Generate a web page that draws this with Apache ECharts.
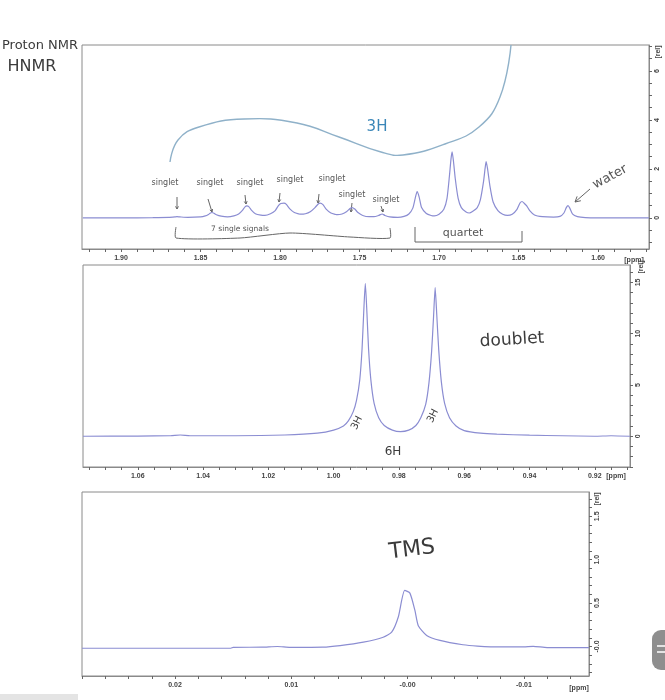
<!DOCTYPE html>
<html>
<head>
<meta charset="utf-8">
<script src="https://cdn.jsdelivr.net/npm/echarts@6/dist/echarts.min.js"></script>
<style>
  html, body { margin: 0; padding: 0; background: #ffffff; }
  #chart { width: 665px; height: 700px; }
</style>
</head>
<body>
<div id="chart"></div>
<script>
// ---- data: [ppm, rel. intensity] ----

// 1.57 - 1.92 ppm : seven small singlets, quartet, water
const spec1 = [
  [1.924, 0.0], [1.900, 0.0], [1.880, 0.01], [1.870, 0.02], [1.866, 0.04], [1.8648, 0.05], [1.863, 0.04], [1.858, 0.02],
  [1.850, 0.04], [1.847, 0.08], [1.845, 0.14], [1.844, 0.19], [1.8428, 0.22], [1.8415, 0.19], [1.840, 0.13], [1.837, 0.07], [1.833, 0.04],
  [1.829, 0.08], [1.826, 0.16], [1.8235, 0.32], [1.822, 0.45], [1.8208, 0.49], [1.8195, 0.45], [1.818, 0.32], [1.8155, 0.17], [1.812, 0.11], [1.8095, 0.1],
  [1.806, 0.17], [1.803, 0.3], [1.801, 0.5], [1.7995, 0.59], [1.7975, 0.6], [1.796, 0.55], [1.794, 0.38], [1.791, 0.22], [1.788, 0.16], [1.787, 0.15],
  [1.784, 0.17], [1.781, 0.25], [1.778, 0.42], [1.776, 0.57], [1.7748, 0.6], [1.773, 0.54], [1.771, 0.36], [1.768, 0.2], [1.765, 0.14], [1.764, 0.13],
  [1.761, 0.16], [1.758, 0.26], [1.756, 0.38], [1.7547, 0.42], [1.753, 0.36], [1.751, 0.22], [1.748, 0.1], [1.744, 0.05],
  [1.741, 0.05], [1.738, 0.1], [1.7358, 0.16], [1.734, 0.1], [1.731, 0.04], [1.726, 0.02],
  [1.722, 0.06], [1.719, 0.16], [1.7165, 0.4], [1.715, 0.8], [1.7138, 1.07], [1.7125, 0.85], [1.711, 0.42], [1.708, 0.18], [1.705, 0.1], [1.703, 0.08],
  [1.700, 0.15], [1.697, 0.35], [1.695, 0.8], [1.6935, 1.7], [1.6925, 2.4], [1.6918, 2.7], [1.691, 2.35], [1.6898, 1.6], [1.688, 0.8], [1.686, 0.42], [1.683, 0.24], [1.681, 0.2],
  [1.679, 0.26], [1.676, 0.42], [1.674, 0.75], [1.672, 1.5], [1.671, 2.05], [1.6704, 2.3], [1.6695, 2.0], [1.668, 1.3], [1.666, 0.65], [1.663, 0.3], [1.660, 0.15], [1.657, 0.1],
  [1.654, 0.15], [1.651, 0.35], [1.649, 0.62], [1.6478, 0.67], [1.6465, 0.6], [1.645, 0.5], [1.643, 0.3], [1.640, 0.12], [1.635, 0.05], [1.628, 0.03],
  [1.624, 0.06], [1.6215, 0.2], [1.620, 0.42], [1.6189, 0.5], [1.6178, 0.4], [1.616, 0.15], [1.613, 0.05], [1.608, 0.01], [1.600, 0.0], [1.568, 0.0]
]

// 0.91 - 1.08 ppm : doublet
const spec2 = [
  [1.0768, 0.0], [1.060, 0.02], [1.050, 0.05], [1.047, 0.12], [1.044, 0.05], [1.030, 0.05], [1.015, 0.12], [1.005, 0.3],
  [1.000, 0.6], [0.997, 1.0], [0.9955, 1.5], [0.994, 2.4], [0.993, 3.5], [0.992, 5.5], [0.9913, 8.5], [0.9908, 12.0],
  [0.9903, 14.9], [0.9898, 12.0], [0.9893, 8.5], [0.9886, 5.5], [0.9876, 3.2], [0.9862, 1.8], [0.9845, 1.05], [0.982, 0.6],
  [0.9795, 0.45], [0.977, 0.6], [0.9748, 1.05], [0.9733, 1.8], [0.9718, 3.1], [0.9708, 5.2], [0.970, 8.2], [0.9694, 11.6],
  [0.9689, 14.5], [0.9684, 11.8], [0.9678, 8.4], [0.967, 5.3], [0.966, 3.2], [0.9645, 1.8], [0.9625, 1.0], [0.960, 0.55],
  [0.955, 0.3], [0.950, 0.2], [0.940, 0.1], [0.930, 0.05], [0.920, 0.0], [0.915, 0.05], [0.9092, 0.0]
]

// -0.016 - 0.028 ppm : TMS
const spec3 = [
  [0.0280, -0.02], [0.0200, -0.02], [0.0152, -0.02], [0.0150, -0.01], [0.0125, -0.008], [0.0112, 0.0], [0.0101, -0.01],
  [0.0073, -0.008], [0.0058, 0.01], [0.0038, 0.05], [0.0021, 0.107], [0.00137, 0.165], [0.0008, 0.34], [0.00025, 0.646],
  [-0.0002, 0.615], [-0.00063, 0.415], [-0.00092, 0.24], [-0.00164, 0.127], [-0.00278, 0.07], [-0.00476, 0.02],
  [-0.0060, 0.005], [-0.0080, -0.005], [-0.0100, -0.004], [-0.0108, 0.002], [-0.0120, -0.012], [-0.0156, -0.012]
]

// ---- axis labels ----
const ppm1Labels = [1.90, 1.85, 1.80, 1.75, 1.70, 1.65, 1.60]
const rel1Labels = [0, 2, 4, 6]
const ppm2Labels = [1.06, 1.04, 1.02, 1.00, 0.98, 0.96, 0.94, 0.92]
const rel2Labels = [0, 5, 10, 15]
const ppm3Labels = [0.02, 0.01, 0, -0.01]
const ppm3Text = ['0.02', '0.01', '-0.00', '-0.01']
const rel3Labels = [0, 0.5, 1.0, 1.5]
const rel3Text = ['-0.0', '0.5', '1.0', '1.5']

// tick positions between labels
const steps = (a, b, d) => {
  const out = []
  for (let v = a; v <= b + d / 2; v += d) out.push(+v.toFixed(4))
  return out
}

const frameColor = '#8a8a8a'
const lineColor = '#8b8dd2'
const tickFont = { fontSize: 7, fontWeight: 'bold', color: '#444', fontFamily: 'Liberation Sans' }

const pick = (vals, texts) => (v) => {
  const i = vals.findIndex(x => Math.abs(x - v) < 1e-7)
  return i < 0 ? '' : (texts ? texts[i] : vals[i].toFixed(2))
}

const makeX = (gi, min, max, labels, ticks, texts) => ({
  type: 'value',
  gridIndex: gi,
  inverse: true,
  min: min,
  max: max,
  position: 'bottom',
  splitLine: { show: false },
  axisLine: { show: true, onZero: false, lineStyle: { color: frameColor } },
  axisTick: { show: true, length: 3, customValues: ticks, lineStyle: { color: '#666' } },
  axisLabel: { customValues: labels, margin: 6, formatter: pick(labels, texts), ...tickFont }
})

const makeY = (gi, min, max, labels, ticks, texts) => ({
  type: 'value',
  gridIndex: gi,
  position: 'right',
  min: min,
  max: max,
  splitLine: { show: false },
  axisLine: { show: true, onZero: false, lineStyle: { color: frameColor } },
  axisTick: { show: true, length: 3, customValues: ticks, lineStyle: { color: '#666' } },
  axisLabel: {
    customValues: labels,
    rotate: 90,
    margin: 5,
    formatter: (v) => {
      const i = labels.findIndex(x => Math.abs(x - v) < 1e-7)
      if (i < 0) return ''
      return texts ? texts[i] : String(labels[i])
    },
    ...tickFont
  }
})

// ---- hand written notes ----
const ink = '#3b3b3b'
const pen = 'DejaVu Sans'
const note = (text, x, y, size, opts = {}) => ({
  type: 'text',
  x: x,
  y: y,
  rotation: opts.rot || 0,
  style: {
    text: text,
    fontSize: size,
    fontFamily: pen,
    fill: opts.color || ink,
    align: 'center',
    verticalAlign: 'middle',
    fontWeight: opts.weight || 'normal'
  }
})
const stroke = (points, opts = {}) => ({
  type: 'polyline',
  shape: { points: points, smooth: opts.smooth || 0 },
  style: { stroke: opts.color || '#555', lineWidth: opts.width || 1, fill: null }
})
// arrow from (x1,y1) to (x2,y2)
const arrow = (x1, y1, x2, y2, opts = {}) => {
  const a = Math.atan2(y2 - y1, x2 - x1)
  const h = opts.head || 4
  return [
    stroke([[x1, y1], [x2, y2]], opts),
    stroke([
      [x2 - h * Math.cos(a - 0.5), y2 - h * Math.sin(a - 0.5)],
      [x2, y2],
      [x2 - h * Math.cos(a + 0.5), y2 - h * Math.sin(a + 0.5)]
    ], opts)
  ]
}
const axisText = (text, x, y, rot) => ({
  type: 'text', x: x, y: y, rotation: rot || 0,
  style: { text: text, fontSize: 7, fontWeight: 'bold', fontFamily: 'Liberation Sans', fill: '#444', align: 'center', verticalAlign: 'middle' }
})

const singlets = [
  // text x, text y, arrow from, arrow to
  [165, 183, [177, 197], [177, 209]],
  [210, 183, [208, 199], [212, 212]],
  [250, 183, [245, 195], [246, 204]],
  [290, 180, [280, 193], [279, 202]],
  [332, 179, [319, 194], [318, 203]],
  [352, 195, [352, 203], [351, 212]],
  [386, 200, [381, 206], [383, 212]]
]

const graphic = [
  note('Proton NMR', 40, 46, 13),
  note('HNMR', 32, 67, 16),
  // big blue loop with 3H
  stroke([[170, 162], [178, 140], [199, 127], [244, 119], [297, 123], [339, 137], [381, 152], [403, 155], [445, 144], [479, 127], [500, 97], [511, 45]],
    { color: '#8fb1c9', width: 1.4, smooth: 0.45 }),
  note('3H', 377, 127, 15, { color: '#3a86b8' }),
  note('7 single signals', 240, 229, 7.5, { color: '#555' }),
  stroke([[176, 227], [176, 238], [240, 238], [290, 233], [350, 237], [390, 238], [390, 228]], { color: '#666', smooth: 0.2 }),
  stroke([[415, 227], [415, 242], [522, 242], [522, 231]], { color: '#666' }),
  note('quartet', 463, 233, 11, { color: '#555' }),
  note('water', 610, 177, 13, { rot: 0.5, color: '#555' }),
  ...arrow(590, 189, 575, 202, { color: '#666', head: 6 }),
  // doublet panel
  note('doublet', 512, 340, 17, { rot: 0.06 }),
  note('3H', 357, 423, 10, { rot: 1.1 }),
  note('3H', 433, 416, 10, { rot: 1.1 }),
  note('6H', 393, 452, 12),
  // TMS panel
  note('TMS', 412, 550, 22, { rot: 0.12 }),
  // axis units
  axisText('[ppm]', 634, 260),
  axisText('[rel]', 658, 52, Math.PI / 2),
  axisText('[ppm]', 616, 476),
  axisText('[rel]', 641, 267, Math.PI / 2),
  axisText('[ppm]', 579, 688),
  axisText('[rel]', 597, 499, Math.PI / 2),
  // phone screenshot bits
  { type: 'rect', shape: { x: 652, y: 630, width: 22, height: 40, r: 9 }, style: { fill: '#8e8e8e' } },
  stroke([[657, 646], [665, 646]], { color: '#fff', width: 1.5 }),
  stroke([[657, 652], [665, 652]], { color: '#fff', width: 1.5 }),
  { type: 'rect', shape: { x: 0, y: 694, width: 78, height: 6 }, style: { fill: '#e4e4e4' } }
]
singlets.forEach(s => {
  graphic.push(note('singlet', s[0], s[1], 8, { color: '#555' }))
  graphic.push(...arrow(s[2][0], s[2][1], s[3][0], s[3][1], { color: '#666', head: 3 }))
})

const myChart = echarts.init(document.getElementById('chart'))

const spectrum = (data, i) => ({
  type: 'line',
  xAxisIndex: i,
  yAxisIndex: i,
  data: data,
  showSymbol: false,
  smooth: 0.2,
  lineStyle: { color: lineColor, width: 1.2 },
  silent: true
})

const options = {
  animation: false,
  backgroundColor: '#ffffff',
  grid: [
    { left: 82, top: 45, width: 567, height: 204, show: true, borderColor: frameColor, borderWidth: 1 },
    { left: 83, top: 265, width: 547, height: 202, show: true, borderColor: frameColor, borderWidth: 1 },
    { left: 82, top: 492, width: 507, height: 184, show: true, borderColor: frameColor, borderWidth: 1 }
  ],
  xAxis: [
    makeX(0, 1.568, 1.9245, ppm1Labels, steps(1.57, 1.92, 0.01)),
    makeX(1, 0.9092, 1.0768, ppm2Labels, steps(0.91, 1.075, 0.005)),
    makeX(2, -0.0156, 0.0280, ppm3Labels, steps(-0.014, 0.028, 0.002), ppm3Text)
  ],
  yAxis: [
    makeY(0, -1.27, 7.06, rel1Labels, steps(-1, 7, 0.5)),
    makeY(1, -3.0, 16.7, rel2Labels, steps(-3, 16, 1)),
    makeY(2, -0.34, 1.78, rel3Labels, steps(-0.3, 1.7, 0.1), rel3Text)
  ],
  series: [spectrum(spec1, 0), spectrum(spec2, 1), spectrum(spec3, 2)],
  graphic: graphic
}
myChart.setOption(options)
</script>
</body>
</html>
